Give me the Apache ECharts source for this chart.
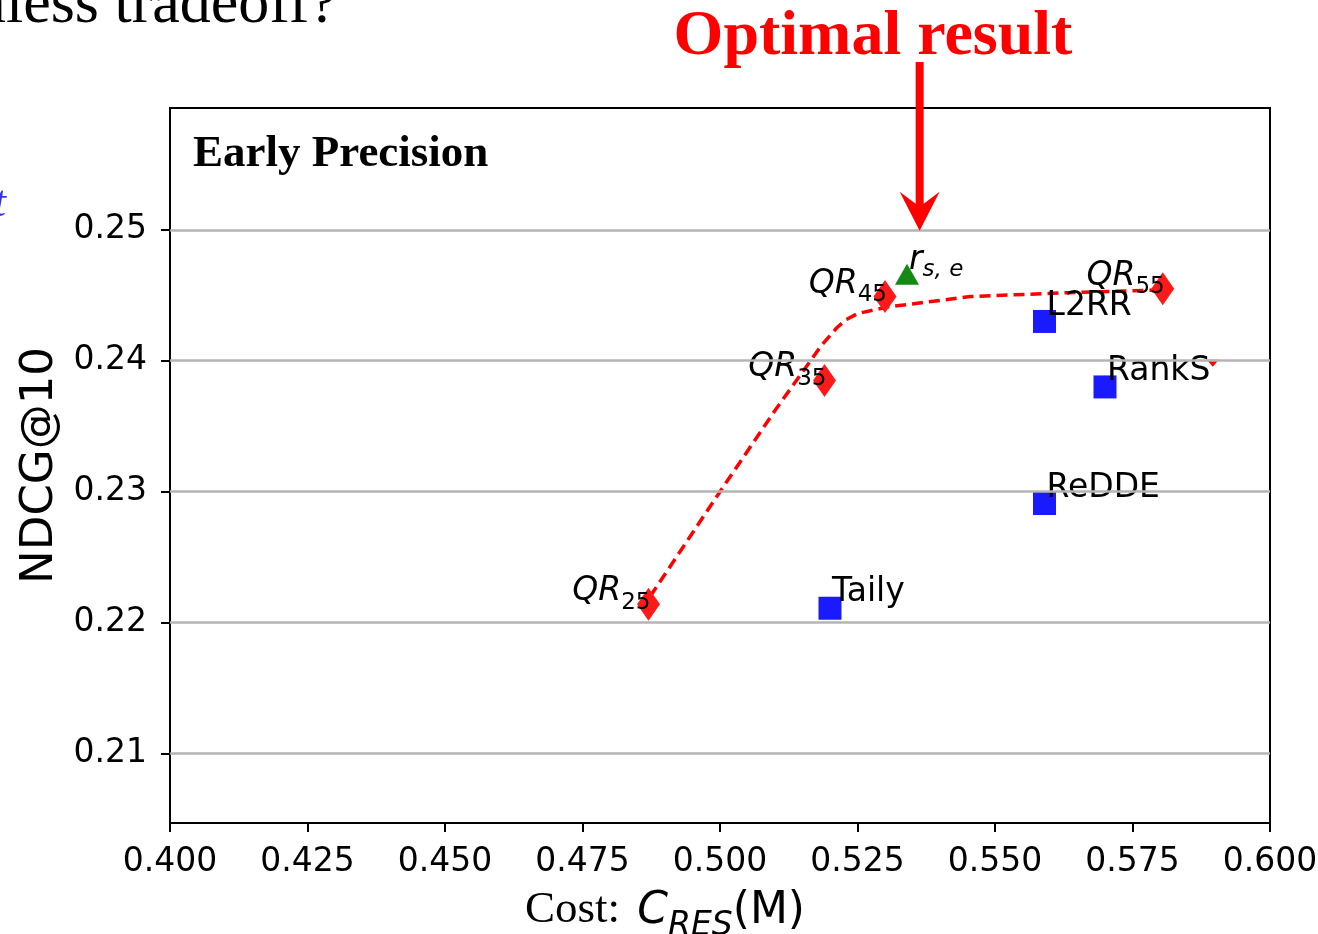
<!DOCTYPE html>
<html>
<head>
<meta charset="utf-8">
<script src="https://cdn.jsdelivr.net/npm/echarts@6/dist/echarts.min.js"></script>
<style>
  html, body { margin: 0; padding: 0; background: #fff; }
  #chart-root { width: 1318px; height: 934px; }
</style>
</head>
<body>
<div id="chart-root"></div>
<script>
// tick values
const xTicks = [0.400, 0.425, 0.450, 0.475, 0.500, 0.525, 0.550, 0.575, 0.600];
const yTicks = [0.21, 0.22, 0.23, 0.24, 0.25];

// QR_k points (red diamonds)
const qrNames = ['25', '35', '45', '55'];
const qrX = [0.487, 0.519, 0.530, 0.5805];
const qrY = [0.2214, 0.2385, 0.2449, 0.2455];

// baselines (blue squares)
const baseNames = ['Taily', 'ReDDE', 'L2RR', 'RankS'];
const baseX = [0.520, 0.559, 0.559, 0.570];
const baseY = [0.2211, 0.2291, 0.2430, 0.2380];

// r_{s,e} (green triangle)
const oursX = [0.534];
const oursY = [0.2466];

// stray clipped marker next to RankS
const strayX = [0.5896];
const strayY = [0.2398];

// dashed trade-off curve
const curveX = [0.4873, 0.5000, 0.5100, 0.5185, 0.5212, 0.5228, 0.5250, 0.5304, 0.5455, 0.5636, 0.5800];
const curveY = [0.2220, 0.2300, 0.2362, 0.2412, 0.2425, 0.2431, 0.2436, 0.2441, 0.2449, 0.2452, 0.2454];

const arrowX = 0.5363;

const sans = 'DejaVu Sans';
const serif = 'Liberation Serif';

function zip(xs, ys) {
  return xs.map(function (x, i) { return [x, ys[i]]; });
}

const chart = echarts.init(document.getElementById('chart-root'));

const subRich = {
  a: { fontFamily: sans, fontStyle: 'italic', fontSize: 33, color: '#000', lineHeight: 33, verticalAlign: 'top' },
  b: { fontFamily: sans, fontSize: 23, color: '#000', lineHeight: 23, verticalAlign: 'top', padding: [16, 0, 0, 0] },
  bi: { fontFamily: sans, fontStyle: 'italic', fontSize: 23, color: '#000', lineHeight: 23, verticalAlign: 'top', padding: [15, 0, 0, 0] }
};

chart.setOption({
  animation: false,
  backgroundColor: '#fff',
  grid: {
    left: 170, top: 108, width: 1100, height: 715,
    outerBoundsMode: 'none', containLabel: false,
    show: true, borderColor: '#000', borderWidth: 2, backgroundColor: '#fff'
  },
  xAxis: {
    type: 'value', min: 0.4, max: 0.6,
    axisLine: { show: false },
    splitLine: { show: false },
    axisTick: { show: true, customValues: xTicks, length: 9, lineStyle: { color: '#000', width: 2 } },
    axisLabel: {
      customValues: xTicks, margin: 23,
      fontFamily: sans, fontSize: 33, color: '#000',
      formatter: function (v) { return v.toFixed(3); }
    }
  },
  yAxis: {
    type: 'value', min: 0.2047, max: 0.2593,
    name: 'NDCG@10', nameLocation: 'middle', nameRotate: 90, nameGap: 106,
    nameTextStyle: { fontFamily: sans, fontSize: 45, color: '#000' },
    axisLine: { show: false },
    splitLine: { show: false },
    axisTick: { show: true, customValues: yTicks, length: 9, lineStyle: { color: '#000', width: 2 } },
    axisLabel: {
      customValues: yTicks, margin: 23,
      fontFamily: sans, fontSize: 33, color: '#000',
      formatter: function (v) { return v.toFixed(2); }
    }
  },
  series: [
    {
      type: 'line', data: [], z: 1, silent: true,
      markLine: {
        silent: true, symbol: 'none', label: { show: false },
        lineStyle: { color: '#b4b4b4', width: 2.5, type: 'solid' },
        data: yTicks.map(function (v) { return { yAxis: v }; })
      }
    },
    {
      type: 'line', z: 2, data: zip(curveX, curveY),
      smooth: false, showSymbol: false,
      lineStyle: { color: '#ff0000', width: 3.5, type: [11, 6], join: 'round' }
    },
    {
      type: 'scatter', z: 3, symbol: 'diamond', symbolSize: [23, 33],
      itemStyle: { color: '#ff1a1a', opacity: 1 },
      data: zip(qrX, qrY).map(function (p, i) {
        return {
          value: p,
          label: {
            show: true, position: [11.5, 16.5], align: 'right', verticalAlign: 'bottom', offset: [2, 4],
            formatter: '{a|QR}{b|' + qrNames[i] + '}', rich: subRich
          }
        };
      })
    },
    {
      type: 'scatter', z: 3, symbol: 'rect', symbolSize: 23,
      itemStyle: { color: '#1a1aff', borderRadius: 2, opacity: 1 },
      data: zip(baseX, baseY).map(function (p, i) {
        return {
          value: p,
          label: {
            show: true, position: [11.5, 11.5], align: 'left', verticalAlign: 'bottom', offset: [2, 1],
            fontFamily: sans, fontSize: 33, color: '#000', lineHeight: 33,
            formatter: baseNames[i]
          }
        };
      })
    },
    {
      type: 'scatter', z: 3, symbol: 'triangle', symbolSize: [24, 21],
      itemStyle: { color: '#148a14', opacity: 1 },
      data: zip(oursX, oursY).map(function (p) {
        return {
          value: p,
          label: {
            show: true, position: [12, 10], align: 'left', verticalAlign: 'bottom', offset: [2, 3],
            formatter: '{a|r}{bi|s, e}', rich: subRich
          }
        };
      })
    },
    {
      type: 'scatter', z: 3, symbol: 'triangle', symbolRotate: 180, symbolSize: [12, 7],
      itemStyle: { color: '#ff0000', opacity: 1 },
      data: zip(strayX, strayY)
    }
  ]
});

const tip = chart.convertToPixel({ xAxisIndex: 0, yAxisIndex: 0 }, [arrowX, yTicks[yTicks.length - 1]]);
const ax = tip[0], ay = tip[1];

chart.setOption({
  graphic: [
    {
      type: 'rect', silent: true, z: 10,
      shape: { x: ax - 4, y: 62, width: 8, height: ay - 62 - 24 },
      style: { fill: '#ff0000' }
    },
    {
      type: 'polygon', silent: true, z: 10,
      shape: { points: [[ax, ay + 1], [ax - 20, ay - 38], [ax - 4, ay - 26], [ax + 4, ay - 26], [ax + 20, ay - 38]] },
      style: { fill: '#ff0000' }
    },
    {
      type: 'text', silent: true, z: 10, x: 873, y: 37,
      style: { text: 'Optimal result', fill: '#ff0000', font: 'bold 64px "Liberation Serif"', align: 'center', verticalAlign: 'middle' }
    },
    {
      type: 'text', silent: true, z: 10, x: 193, y: 154,
      style: { text: 'Early Precision', fill: '#000', font: 'bold 45px "Liberation Serif"', align: 'left', verticalAlign: 'middle' }
    },
    {
      type: 'text', silent: true, z: 10, x: 337, y: 6,
      style: { text: 'Seamless tradeoff?', fill: '#000', font: '62px "Liberation Serif"', align: 'right', verticalAlign: 'middle' }
    },
    {
      type: 'text', silent: true, z: 10, x: 6, y: 204,
      style: { text: 'ct', fill: '#3333dd', font: 'italic 44px "Liberation Serif"', align: 'right', verticalAlign: 'middle' }
    },
    {
      type: 'text', silent: true, z: 10, x: 525, y: 888,
      style: {
        text: '{c|Cost: }{ci|C}{e|RES}{d|(M)}',
        align: 'left', verticalAlign: 'top',
        rich: {
          c: { fontFamily: serif, fontSize: 45, color: '#000', lineHeight: 45, verticalAlign: 'top', padding: [0, 0, 0, 0] },
          ci: { fontFamily: sans, fontStyle: 'italic', fontSize: 44, color: '#000', lineHeight: 44, verticalAlign: 'top', padding: [2, 0, 0, 6] },
          d: { fontFamily: sans, fontSize: 44, color: '#000', lineHeight: 44, verticalAlign: 'top', padding: [2, 0, 0, 0] },
          e: { fontFamily: sans, fontStyle: 'italic', fontSize: 33, color: '#000', lineHeight: 33, verticalAlign: 'top', padding: [22, 0, 0, 0] }
        }
      }
    }
  ]
});
</script>
</body>
</html>
